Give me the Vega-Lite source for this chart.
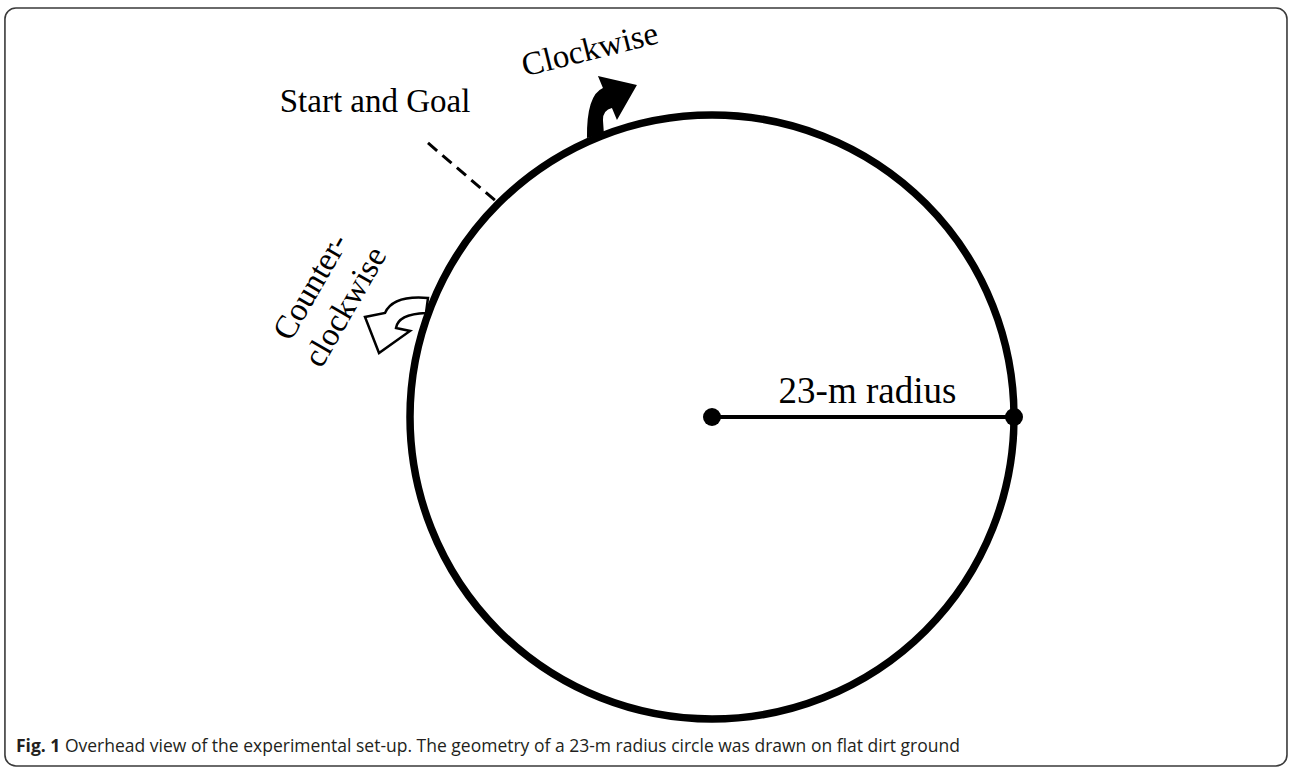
{
  "$schema": "https://vega.github.io/schema/vega-lite/v6.json",
  "width": 1290,
  "height": 770,
  "padding": 0,
  "autosize": {"type": "fit", "contains": "padding"},
  "background": "white",
  "view": {"stroke": null},
  "datasets": {
    "frame": [{"x": -53.85, "y": 31.15, "x2": 43.79, "y2": -26.58}],
    "circle": [{"x": 0, "y": 0, "name": "23-m circle"}],
    "radius": [{"x": 0, "y": 0, "x2": 23, "y2": 0}],
    "ends": [{"x": 0, "y": 0, "name": "centre"}, {"x": 23, "y": 0, "name": "edge"}],
    "startline": [{"x": -21.63, "y": 20.87, "x2": -16.37, "y2": 16.37}],
    "arrows": [
      {"x": -7.62, "y": 23.61, "dir": "clockwise"},
      {"x": -23.99, "y": 7.01, "dir": "counterclockwise"}
    ],
    "labels": [
      {"x": 11.84, "y": 1.07, "label": "23-m radius", "kind": "radius"},
      {"x": -25.66, "y": 23.23, "label": "Start and Goal", "kind": "start"},
      {"x": -9.29, "y": 27.95, "label": "Clockwise", "kind": "cw"},
      {"x": -30.54, "y": 9.9, "label": "Counter-\nclockwise", "kind": "ccw"},
      {"x": -53.01, "y": -25.51, "label": "Fig. 1", "kind": "figno"},
      {"x": -49.28, "y": -25.51, "label": "Overhead view of the experimental set-up. The geometry of a 23-m radius circle was drawn on flat dirt ground", "kind": "caption"}
    ]
  },
  "encoding": {
    "x": {"field": "x", "type": "quantitative", "axis": null, "scale": {"domain": [-54.226, 44.02], "nice": false, "zero": false}},
    "y": {"field": "y", "type": "quantitative", "axis": null, "scale": {"domain": [-26.884, 31.758], "nice": false, "zero": false}}
  },
  "layer": [
    {
      "data": {"name": "frame"},
      "mark": {"type": "rect", "fill": "transparent", "stroke": "#3a3a3a", "strokeWidth": 1.6, "cornerRadius": 11},
      "encoding": {"x2": {"field": "x2"}, "y2": {"field": "y2"}}
    },
    {
      "data": {"name": "startline"},
      "mark": {"type": "rule", "color": "black", "strokeWidth": 3, "strokeDash": [12, 7]},
      "encoding": {"x2": {"field": "x2"}, "y2": {"field": "y2"}}
    },
    {
      "data": {"name": "arrows"},
      "transform": [{"filter": "datum.dir === 'clockwise'"}],
      "mark": {"type": "point", "filled": true, "fill": "black", "strokeWidth": 0, "opacity": 1, "size": 3600,
        "shape": "M -0.833 1.033 L -0.267 0.9 L -0.3 0.433 Q -0.3 0.1 0 0.033 L 0.167 0.433 L 0.833 -0.733 L -0.467 -1.033 L -0.3 -0.633 Q -0.85 -0.4 -0.833 1.033 Z"}
    },
    {
      "data": {"name": "arrows"},
      "transform": [{"filter": "datum.dir === 'counterclockwise'"}],
      "mark": {"type": "point", "filled": true, "fill": "white", "stroke": "black", "strokeWidth": 2.5, "opacity": 1, "size": 4356,
        "shape": "M 0.939 -0.818 Q -0.121 -0.909 -0.364 -0.364 L -0.970 -0.242 L -0.545 0.848 L 0.394 0.182 L -0.03 0.091 Q 0.03 -0.333 0.879 -0.364 Z"}
    },
    {
      "data": {"name": "circle"},
      "mark": {"type": "point", "shape": "circle", "filled": false, "stroke": "black", "strokeWidth": 7.5, "opacity": 1, "size": 364816}
    },
    {
      "data": {"name": "radius"},
      "mark": {"type": "rule", "color": "black", "strokeWidth": 4},
      "encoding": {"x2": {"field": "x2"}, "y2": {"field": "y2"}}
    },
    {
      "data": {"name": "ends"},
      "mark": {"type": "point", "shape": "circle", "filled": true, "fill": "black", "opacity": 1, "size": 324}
    },
    {
      "data": {"name": "labels"},
      "transform": [{"filter": "datum.kind === 'radius'"}],
      "mark": {"type": "text", "font": "Liberation Serif", "fontSize": 37, "align": "center", "baseline": "alphabetic", "color": "black"},
      "encoding": {"text": {"field": "label"}}
    },
    {
      "data": {"name": "labels"},
      "transform": [{"filter": "datum.kind === 'start'"}],
      "mark": {"type": "text", "font": "Liberation Serif", "fontSize": 33, "align": "center", "baseline": "alphabetic", "color": "black"},
      "encoding": {"text": {"field": "label"}}
    },
    {
      "data": {"name": "labels"},
      "transform": [{"filter": "datum.kind === 'cw'"}],
      "mark": {"type": "text", "font": "Liberation Serif", "fontSize": 33, "align": "center", "baseline": "middle", "angle": -14, "color": "black"},
      "encoding": {"text": {"field": "label"}}
    },
    {
      "data": {"name": "labels"},
      "transform": [{"filter": "datum.kind === 'ccw'"}],
      "mark": {"type": "text", "font": "Liberation Serif", "fontSize": 33, "align": "center", "baseline": "middle", "angle": -60, "lineBreak": "\n", "lineHeight": 40, "color": "black"},
      "encoding": {"text": {"field": "label"}}
    },
    {
      "data": {"name": "labels"},
      "transform": [{"filter": "datum.kind === 'figno'"}],
      "mark": {"type": "text", "font": "Open Sans", "fontSize": 17.5, "fontWeight": "bold", "align": "left", "baseline": "alphabetic", "color": "#231f20"},
      "encoding": {"text": {"field": "label"}}
    },
    {
      "data": {"name": "labels"},
      "transform": [{"filter": "datum.kind === 'caption'"}],
      "mark": {"type": "text", "font": "Open Sans", "fontSize": 17.5, "align": "left", "baseline": "alphabetic", "color": "#231f20"},
      "encoding": {"text": {"field": "label"}}
    }
  ]
}
